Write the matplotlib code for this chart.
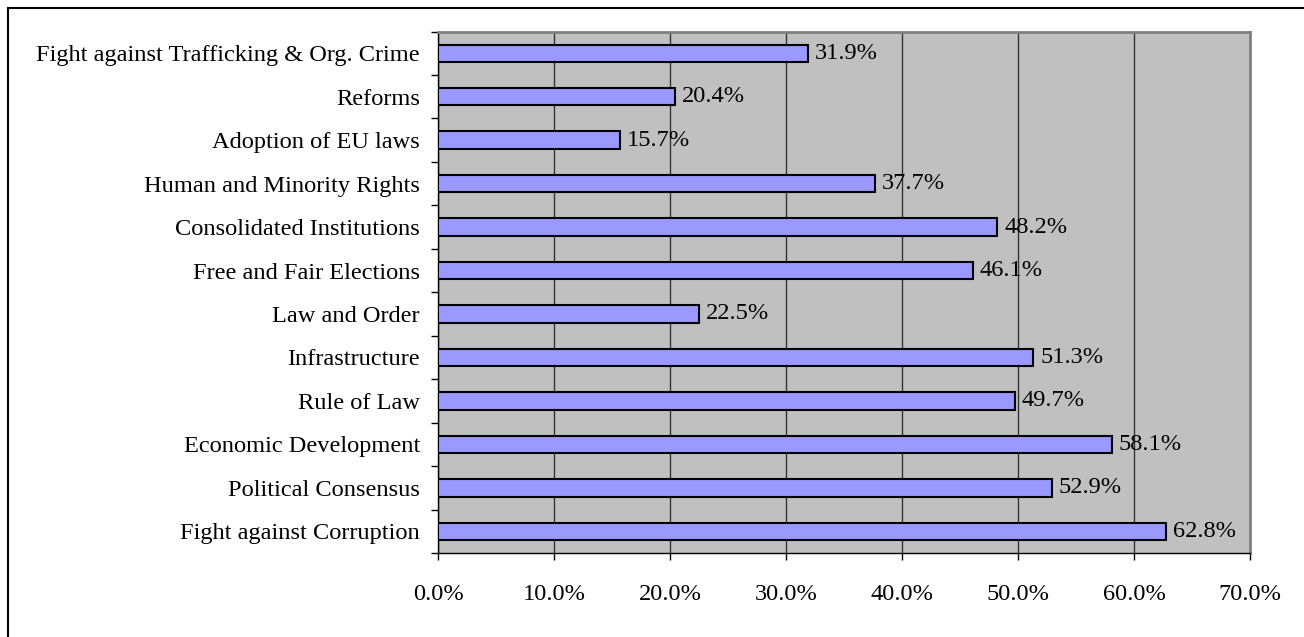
import matplotlib
matplotlib.use("Agg")
import matplotlib.pyplot as plt
from matplotlib.patches import Rectangle
from matplotlib.ticker import FuncFormatter, MultipleLocator, FixedLocator
import numpy as np

categories = [
    "Fight against Corruption",
    "Political Consensus",
    "Economic Development",
    "Rule of Law",
    "Infrastructure",
    "Law and Order",
    "Free and Fair Elections",
    "Consolidated Institutions",
    "Human and Minority Rights",
    "Adoption of EU laws",
    "Reforms",
    "Fight against Trafficking & Org. Crime",
]
values = [62.8, 52.9, 58.1, 49.7, 51.3, 22.5, 46.1, 48.2, 37.7, 15.7, 20.4, 31.9]

plt.rcParams["font.family"] = ["Liberation Serif", "DejaVu Serif"]
FS = 17.6

W, H = 1304, 637
fig = plt.figure(figsize=(W / 100, H / 100), dpi=100)

# outer chart border
fig.patches.append(Rectangle((8 / W, -0.05), 1.2, 1 - 8 / H + 0.05,
                             transform=fig.transFigure, fill=False,
                             edgecolor="black", linewidth=1.5, zorder=10))

ax = fig.add_axes([438 / W, 1 - 553 / H, 812 / W, (553 - 31.5) / H])
ax.set_facecolor("#C0C0C0")

y = np.arange(len(categories))
ax.barh(y, values, height=0.4, color="#9999FF", edgecolor="black",
        linewidth=1.5, zorder=3)
for yi, v in zip(y, values):
    ax.text(v + 0.6, yi, f"{v:.1f}%", va="center", ha="left",
            fontsize=FS, zorder=4)

ax.set_xlim(0, 70)
ax.set_ylim(-0.5, len(categories) - 0.5)
ax.xaxis.set_major_locator(MultipleLocator(10))
ax.xaxis.set_major_formatter(FuncFormatter(lambda v, p: f"{v:.1f}%"))
ax.grid(axis="x", color="#333333", linewidth=1, zorder=1)

ax.set_yticks(y)
ax.set_yticklabels(categories)
ax.yaxis.set_minor_locator(FixedLocator(np.arange(-0.5, len(categories), 1)))
ax.tick_params(axis="y", which="major", length=0, pad=13, labelsize=FS)
ax.tick_params(axis="y", which="minor", length=5, width=1, direction="out")
ax.tick_params(axis="x", length=5, width=1, direction="out", pad=17,
               labelsize=FS)

for side in ("top", "right"):
    ax.spines[side].set_color("#808080")
    ax.spines[side].set_linewidth(2)
for side in ("left", "bottom"):
    ax.spines[side].set_color("black")
    ax.spines[side].set_linewidth(1)

fig.savefig("out.png", dpi=100)
